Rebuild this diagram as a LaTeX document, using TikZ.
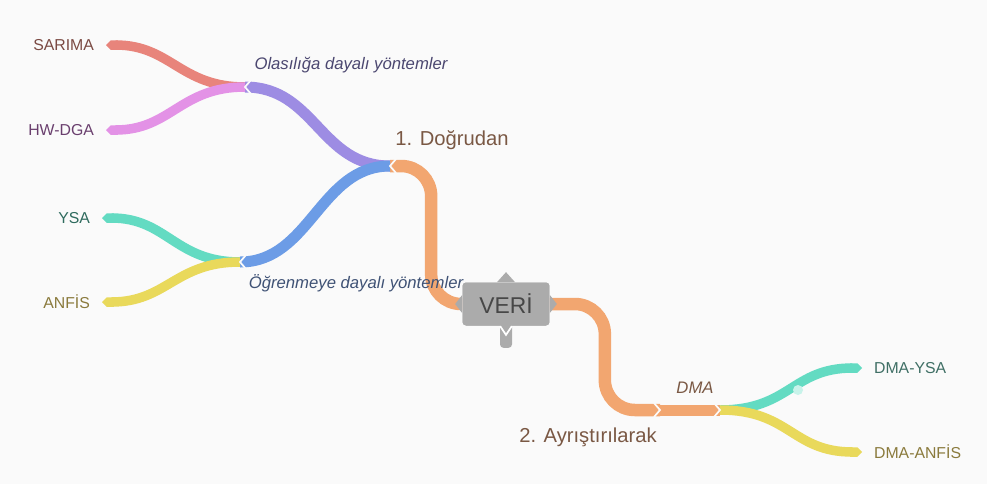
\documentclass[tikz,border=0pt]{standalone}
\usepackage{fontspec}
\setmainfont{Liberation Sans}
\usetikzlibrary{arrows.meta,positioning}
\definecolor{bgpaper}{HTML}{FAFAFA}
\definecolor{boxgray}{HTML}{ABABAB}
\definecolor{brorange}{HTML}{F2A670}
\definecolor{brpurple}{HTML}{9D8CE3}
\definecolor{brblue}{HTML}{6C9CE6}
\definecolor{brred}{HTML}{E8847B}
\definecolor{brpink}{HTML}{E392E6}
\definecolor{brteal}{HTML}{63DBC2}
\definecolor{bryellow}{HTML}{E9D95B}
\definecolor{txbrown}{HTML}{7A5844}
\definecolor{txred}{HTML}{7B4A43}
\definecolor{txpink}{HTML}{6A3F6E}
\definecolor{txteal}{HTML}{2F6B5E}
\definecolor{txolive}{HTML}{8A7A3C}
\definecolor{txslate}{HTML}{4B4770}
\definecolor{txnavy}{HTML}{3F5275}
\tikzset{
  rootbox/.style={fill=boxgray,rounded corners=2pt,inner sep=0pt,minimum width=1.74cm,minimum height=0.86cm,text=black!72,font=\fontsize{13}{15}\selectfont},
  mainbranch/.style={draw=brorange,line width=2.5mm,rounded corners=6mm},
  subbranch/.style={line width=2.2mm},
  leaf/.style={line width=1.9mm,-{Triangle Cap}},
  notch/.style={draw=bgpaper,line width=1pt,line join=miter},
  mainlabel/.style={font=\fontsize{11.5}{13}\selectfont,text=txbrown,inner sep=1pt},
  grouplabel/.style={font=\fontsize{9.5}{11}\selectfont\itshape,inner sep=1pt},
  leaflabel/.style={font=\fontsize{9}{11}\selectfont,inner sep=1pt}
}
\begin{document}
\begin{tikzpicture}[x=0.02cm,y=-0.02cm,node distance=2mm]
  \useasboundingbox[fill=bgpaper] (0,0) rectangle (987,484);
  % junctions and leaf tips
  \coordinate (dogru) at (390,166);
  \coordinate (olas) at (245,87);
  \coordinate (ogren) at (240,262);
  \coordinate (sarimaT) at (106,45);
  \coordinate (hwdgaT) at (106,130);
  \coordinate (ysaT) at (102,218);
  \coordinate (anfisT) at (102,302);
  \coordinate (ayris) at (660,410);
  \coordinate (dma) at (720,410);
  \coordinate (dmaysaT) at (862,368);
  \coordinate (dmaanfisT) at (862,452);
  \node[rootbox] (veri) at (506,304) {VER\.I};
  % branches
  \draw[mainbranch] (veri.west) -- ++(-31,0) |- (dogru);
  \draw[mainbranch] (veri.east) -- ++(55,0) |- (ayris);
  \draw[subbranch,brpurple] (dogru) .. controls +(-70,0) and +(70,0) .. (olas);
  \draw[subbranch,brblue] (dogru) .. controls +(-70,0) and +(70,0) .. (ogren);
  \draw[leaf,brred] (olas) .. controls +(-65,0) and +(65,0) .. (sarimaT);
  \draw[leaf,brpink] (olas) .. controls +(-65,0) and +(65,0) .. (hwdgaT);
  \draw[leaf,brteal] (ogren) .. controls +(-65,0) and +(65,0) .. (ysaT);
  \draw[leaf,bryellow] (ogren) .. controls +(-65,0) and +(65,0) .. (anfisT);
  \draw[subbranch,brorange] (ayris) -- (dma);
  \draw[leaf,brteal] (dma) .. controls +(70,0) and +(-70,0) .. (dmaysaT);
  \draw[leaf,bryellow] (dma) .. controls +(70,0) and +(-70,0) .. (dmaanfisT);
  \fill[brteal!35!white] (798,390) circle (5);
  % notches at the joints
  \draw[notch] ([shift={(6,-7)}]dogru) -- (dogru) -- ([shift={(6,7)}]dogru);
  \draw[notch] ([shift={(6,-7)}]olas) -- (olas) -- ([shift={(6,7)}]olas);
  \draw[notch] ([shift={(6,-7)}]ogren) -- (ogren) -- ([shift={(6,7)}]ogren);
  \draw[notch] ([shift={(-6,-7)}]ayris) -- (ayris) -- ([shift={(-6,7)}]ayris);
  \draw[notch] ([shift={(-6,-7)}]dma) -- (dma) -- ([shift={(-6,7)}]dma);
  % root box pointers
  \fill[boxgray] ([shift={(-9,0)}]veri.north) -- ++(9,-10) -- ++(9,10) -- cycle;
  \fill[boxgray] ([shift={(0,-9)}]veri.west) -- ++(-7,9) -- ++(7,9) -- cycle;
  \fill[boxgray] ([shift={(0,-9)}]veri.east) -- ++(7,9) -- ++(-7,9) -- cycle;
  \fill[boxgray,rounded corners=2pt] ([shift={(-6,-4)}]veri.south) rectangle ++(12,26);
  \draw[notch,draw=white] ([shift={(-6,0)}]veri.south) -- ++(6,9) -- ++(6,-9);
  \node[rootbox] at (veri) {VER\.I};
  % labels
  \node[mainlabel] (dogrul) at (452,140) {1. Do\u{g}rudan};
  \node[mainlabel] (ayrisl) at (588,437) {2. Ayr\i\c{s}t\i r\i larak};
  \node[grouplabel,text=txslate] (olasl) at (351,65) {Olas\i l\i\u{g}a dayal\i{} y\"ontemler};
  \node[grouplabel,text=txnavy] (ogrenl) at (356,283) {\"O\u{g}renmeye dayal\i{} y\"ontemler};
  \node[grouplabel,text=txbrown] (dmal) at (695,388) {DMA};
  \node[leaflabel,text=txred,left=of sarimaT] (sarima) {SARIMA};
  \node[leaflabel,text=txpink,left=of hwdgaT] (hwdga) {HW-DGA};
  \node[leaflabel,text=txteal,left=of ysaT] (ysa) {YSA};
  \node[leaflabel,text=txolive,left=of anfisT] (anfis) {ANF\.IS};
  \node[leaflabel,text=txteal!80!gray,right=of dmaysaT] (dmaysa) {DMA-YSA};
  \node[leaflabel,text=txolive,right=of dmaanfisT] (dmaanfis) {DMA-ANF\.IS};
\end{tikzpicture}
\end{document}
